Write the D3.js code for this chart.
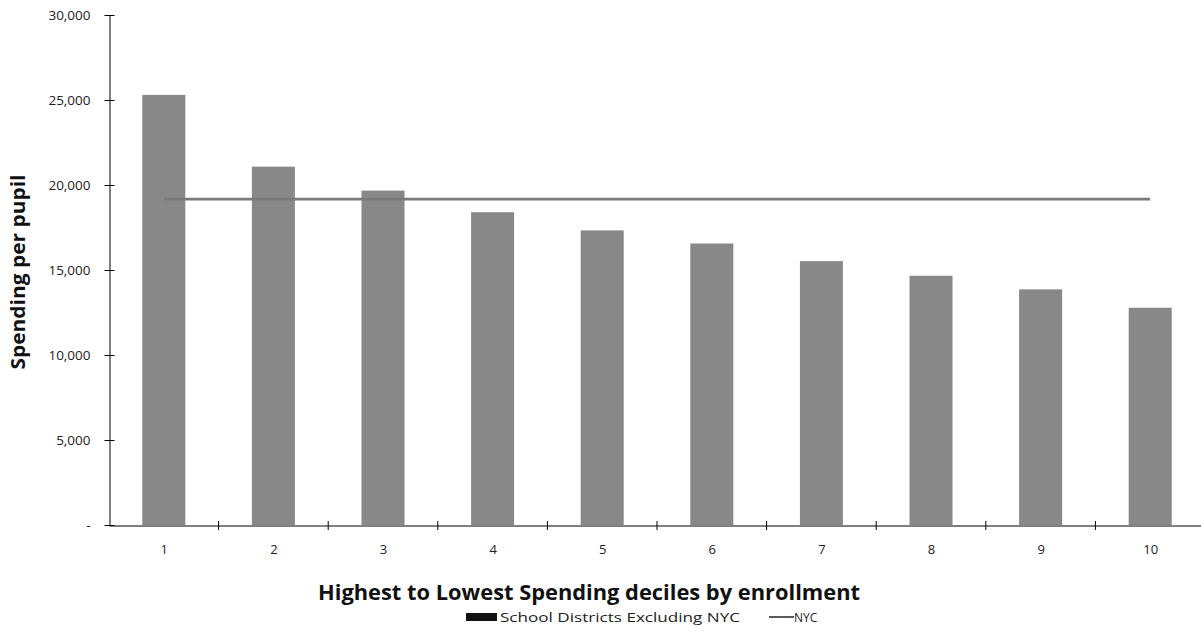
<!DOCTYPE html>
<html><head><meta charset="utf-8">
<script src="https://cdn.jsdelivr.net/npm/d3@7"></script>
<style>body{margin:0;background:#fff}svg{display:block}text{font-family:"Open Sans",sans-serif}</style>
</head><body><svg id="c" width="1201" height="635"></svg>
<script>
const categories = ["1","2","3","4","5","6","7","8","9","10"];
const districtSpending = [25300, 21080, 19670, 18400, 17330, 16560, 15520, 14660, 13860, 12780];
const nycSpending = [19170, 19170, 19170, 19170, 19170, 19170, 19170, 19170, 19170, 19170];
const yTicks = [0, 5000, 10000, 15000, 20000, 25000, 30000];
const yTickLabels = ["-", "5,000", "10,000", "15,000", "20,000", "25,000", "30,000"];

const svg = d3.select("#c");
const x = d3.scaleBand().domain(categories).range([109, 1205]).paddingInner(0.6).paddingOuter(0.3);
const xc = d3.scalePoint().domain(categories).range([109, 1205]).padding(0.5);
const y = d3.scaleLinear().domain([0, 30000]).range([525, 15]);

// bars
svg.append("g").selectAll("rect").data(districtSpending).join("rect")
  .attr("x", (d,i)=>xc(categories[i]) - 21.5)
  .attr("width", 43)
  .attr("y", d=>y(d)).attr("height", d=>y(0)-y(d))
  .attr("fill", "#888888");

// NYC line
svg.append("path").datum(nycSpending)
  .attr("d", d3.line().x((d,i)=>xc(categories[i])).y(d=>y(d)))
  .attr("fill","none").attr("stroke","#7a7a7a").attr("stroke-width",2.6);

// y axis
const yAxis = svg.append("g").attr("transform","translate(109.5,0)")
  .call(d3.axisLeft(y).tickValues(yTicks).tickFormat((d,i)=>yTickLabels[i]).tickSize(0).tickPadding(19));
yAxis.select(".domain").attr("stroke","#000");
yAxis.selectAll(".tick line").attr("x1",-5).attr("x2",5).attr("stroke","#000");
yAxis.selectAll("text").attr("font-size",13.5).attr("fill","#222");

// x axis
const xAxis = svg.append("g").attr("transform","translate(0,525.5)")
  .call(d3.axisBottom(xc).tickSize(0).tickPadding(19));
xAxis.select(".domain").attr("stroke","#000");
xAxis.selectAll("text").attr("font-size",13).attr("fill","#222");
const bounds = d3.range(1, 10).map(i => 109 + i*x.step());
svg.append("g").selectAll("line").data(bounds).join("line")
  .attr("x1",d=>d).attr("x2",d=>d).attr("y1",521).attr("y2",530).attr("stroke","#000");

// titles
svg.append("text").attr("transform","translate(25,272) rotate(-90)")
  .attr("text-anchor","middle").attr("font-size",20).attr("font-weight","bold").attr("fill","#111")
  .attr("textLength",195).attr("lengthAdjust","spacingAndGlyphs")
  .text("Spending per pupil");
svg.append("text").attr("x",589).attr("y",600).attr("text-anchor","middle")
  .attr("font-size",20.5).attr("font-weight","bold").attr("fill","#111")
  .attr("textLength",542).attr("lengthAdjust","spacingAndGlyphs")
  .text("Highest to Lowest Spending deciles by enrollment");

// legend
const lg = svg.append("g");
lg.append("rect").attr("x",466).attr("y",613).attr("width",31).attr("height",8).attr("fill","#111");
lg.append("text").attr("x",500).attr("y",622).attr("font-size",12).attr("fill","#222")
  .attr("textLength",240).attr("lengthAdjust","spacingAndGlyphs").text("School Districts Excluding NYC");
lg.append("line").attr("x1",769).attr("x2",794).attr("y1",617).attr("y2",617).attr("stroke","#222").attr("stroke-width",1.5);
lg.append("text").attr("x",794).attr("y",622).attr("font-size",12).attr("fill","#222").text("NYC");
</script></body></html>
